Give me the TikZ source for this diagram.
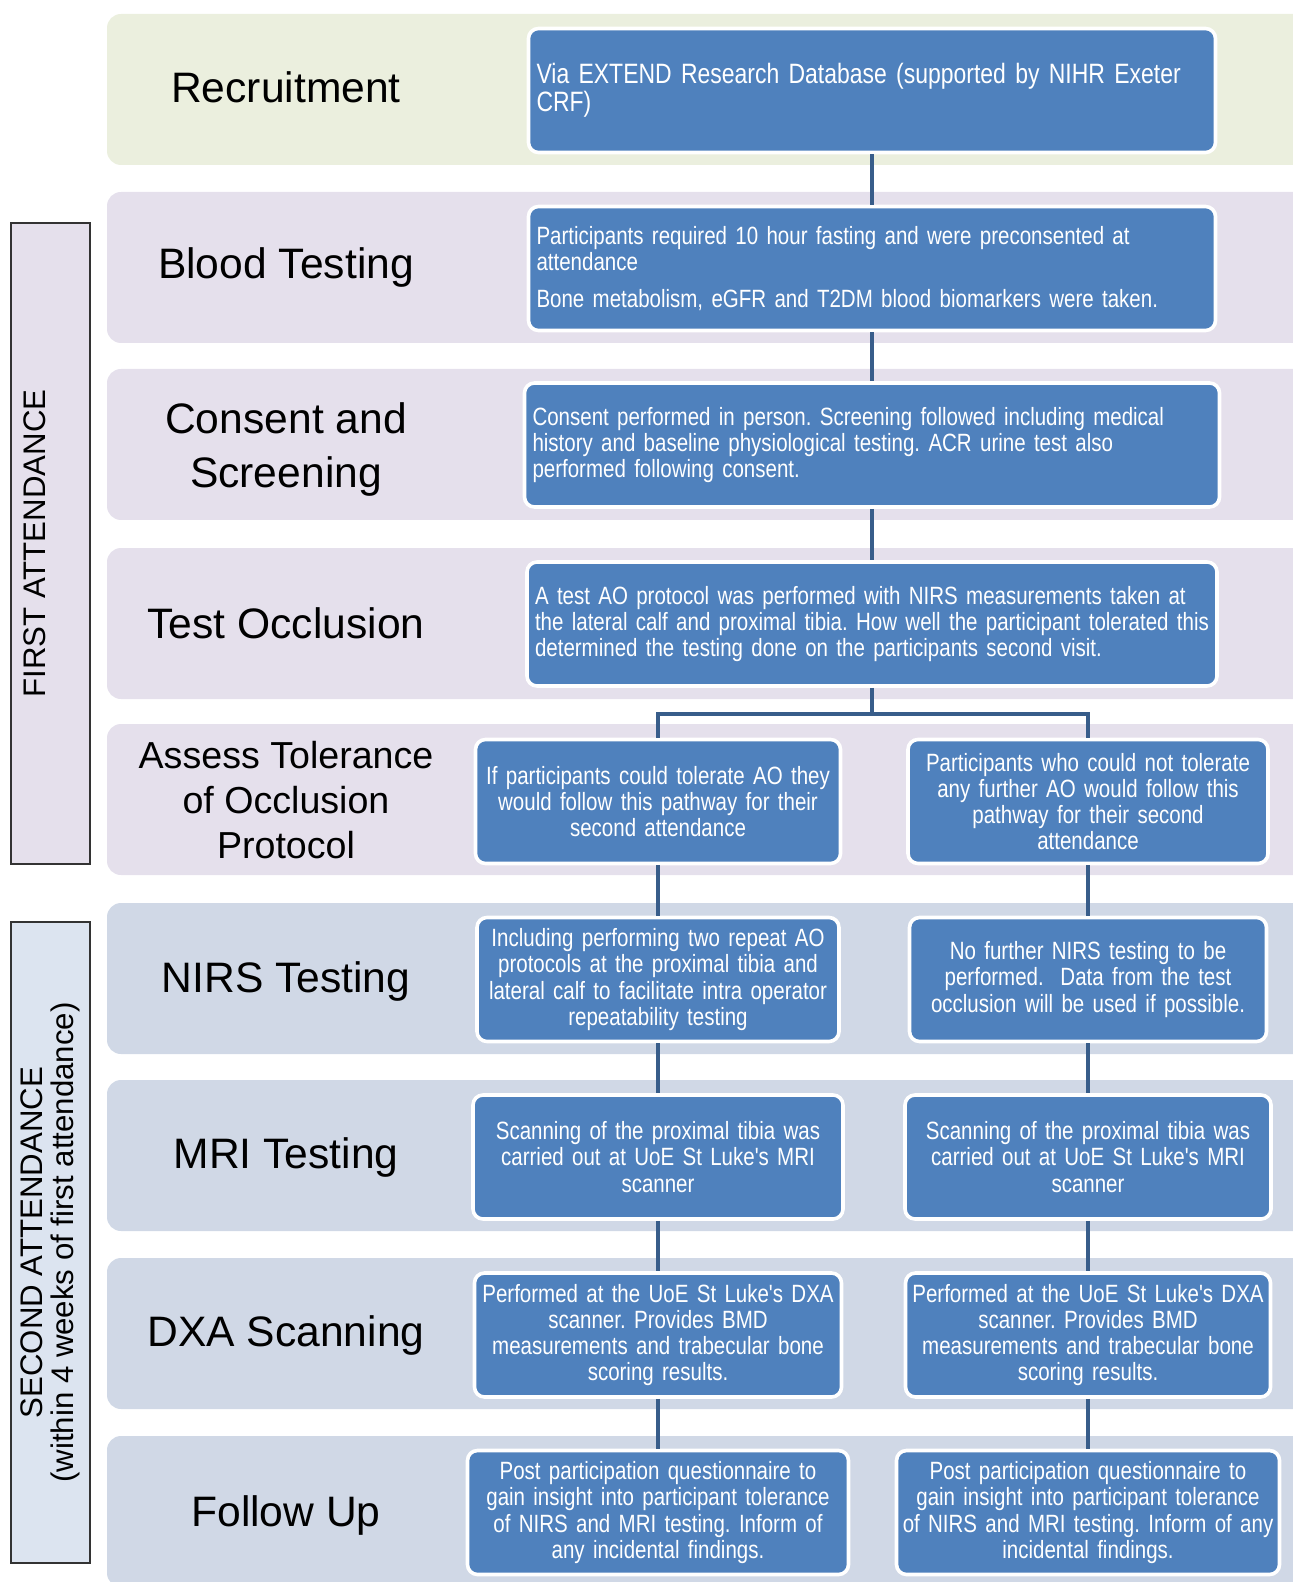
\documentclass[tikz,border=0pt]{standalone}
\usepackage{fontspec}
\setmainfont{Liberation Sans}
\newfontfamily\narrowfont[FakeStretch=0.82]{Liberation Sans}
\definecolor{bandgreen}{RGB}{235,239,222}
\definecolor{bandlilac}{RGB}{229,224,236}
\definecolor{bandblue}{RGB}{208,216,230}
\definecolor{boxblue}{RGB}{79,129,189}
\definecolor{linkblue}{RGB}{56,93,138}
\definecolor{sideblue}{RGB}{220,228,240}
\frenchspacing

\begin{document}
\begin{tikzpicture}[x=0.5pt,y=-0.5pt,
  stage/.style={align=center,font=\fontsize{21.3}{24}\selectfont},
  pbox/.style={rectangle,rounded corners=5pt,fill=boxblue,draw=white,line width=1.8pt,text=white,
    font=\narrowfont\fontsize{12.5}{13.1}\selectfont,inner xsep=4pt,minimum height=62pt,text width=#1},
  sbox/.style={pbox=#1,inner xsep=1pt,align=center},
  side/.style={rectangle,rotate=90,draw=black!80,line width=1pt,minimum width=320.5pt,minimum height=39.5pt,
    align=center,font=\fontsize{15.6}{15.5}\selectfont},
  link/.style={draw=linkblue,line width=2pt}]
  \useasboundingbox (0,0) rectangle (1293,1582);
  % bands
  \foreach \y/\c in {14/bandgreen,192/bandlilac,369/bandlilac,548/bandlilac,724/bandlilac,
                     903/bandblue,1080/bandblue,1258/bandblue,1436/bandblue}
    \fill[\c,rounded corners=7pt] (107,\y) rectangle (1330,\y+151);
  % stage labels
  \node[stage] (s1) at (286,87) {Recruitment};
  \node[stage] (s2) at (286,267) {Blood Testing};
  \node[stage] (s3) at (286,449) {Consent and\\[3pt] Screening};
  \node[stage] (s4) at (286,623) {Test Occlusion};
  \node[stage,font=\fontsize{18.8}{22.7}\selectfont] (s5) at (286,800) {Assess Tolerance\\ of Occlusion\\ Protocol};
  \node[stage] (s6) at (286,981) {NIRS Testing};
  \node[stage] (s7) at (286,1157) {MRI Testing};
  \node[stage] (s8) at (286,1335) {DXA Scanning};
  \node[stage] (s9) at (286,1515) {Follow Up};
  % attendance boxes
  \node[side,fill=bandlilac] (first) at (50.5,543.5) {FIRST ATTENDANCE\\ ~};
  \node[side,fill=sideblue] (second) at (50.5,1242.5) {SECOND ATTENDANCE\\ (within 4 weeks of first attendance)};
  % main steps
  \node[pbox=335.5pt,align=left,font=\narrowfont\fontsize{14}{14.2}\selectfont] (rec) at (872,90.5) {Via EXTEND Research Database (supported by NIHR Exeter\\ CRF)};
  \node[pbox=335.5pt,align=left] (blood) at (872,268.5) {Participants required 10 hour fasting and were preconsented at\\ attendance\\[5pt] Bone metabolism, eGFR and T2DM blood biomarkers were taken.};
  \node[pbox=339.5pt,align=left] (cons) at (872,445) {Consent performed in person. Screening followed including medical\\ history and baseline physiological testing. ACR urine test also\\ performed following consent.};
  \node[pbox=337pt,align=left] (occ) at (872,624) {A test AO protocol was performed with NIRS measurements taken at\\ the lateral calf and proximal tibia. How well the participant tolerated this\\ determined the testing done on the participants second visit.};
  % left pathway
  \node[sbox=180.5pt] (aL) at (658,801.5) {If participants could tolerate AO they\\ would follow this pathway for their\\ second attendance};
  \node[sbox=179pt] (nL) at (658,979.5) {Including performing two repeat AO\\ protocols at the proximal tibia and\\ lateral calf to facilitate intra operator\\ repeatability testing};
  \node[sbox=183pt] (mL) at (658,1157) {Scanning of the proximal tibia was\\ carried out at UoE St Luke's MRI\\ scanner};
  \node[sbox=181.5pt] (dL) at (658,1335) {Performed at the UoE St Luke's DXA\\ scanner. Provides BMD\\ measurements and trabecular bone\\ scoring results.};
  \node[sbox=188.5pt] (fL) at (658,1512.5) {Post participation questionnaire to\\ gain insight into participant tolerance\\ of NIRS and MRI testing. Inform of\\ any incidental findings.};
  % right pathway
  \node[sbox=178pt] (aR) at (1088,801.5) {Participants who could not tolerate\\ any further AO would follow this\\ pathway for their second\\ attendance};
  \node[sbox=176.5pt] (nR) at (1088,979.5) {No further NIRS testing to be\\ performed.\ \ Data from the test\\ occlusion will be used if possible.};
  \node[sbox=181pt] (mR) at (1088,1157) {Scanning of the proximal tibia was\\ carried out at UoE St Luke's MRI\\ scanner};
  \node[sbox=180.5pt] (dR) at (1088,1335) {Performed at the UoE St Luke's DXA\\ scanner. Provides BMD\\ measurements and trabecular bone\\ scoring results.};
  \node[sbox=189.5pt] (fR) at (1088,1512.5) {Post participation questionnaire to\\ gain insight into participant tolerance\\ of NIRS and MRI testing. Inform of any\\ incidental findings.};
  % connectors
  \coordinate (fork) at (872,714);
  \draw[link] (rec) -- (blood);
  \draw[link] (blood) -- (cons);
  \draw[link] (cons) -- (occ);
  \draw[link] (occ) -- (fork) -| (aL);
  \draw[link] (fork) -| (aR);
  \foreach \a/\b in {aL/nL,nL/mL,mL/dL,dL/fL,aR/nR,nR/mR,mR/dR,dR/fR}
    \draw[link] (\a) -- (\b);
\end{tikzpicture}
\end{document}
